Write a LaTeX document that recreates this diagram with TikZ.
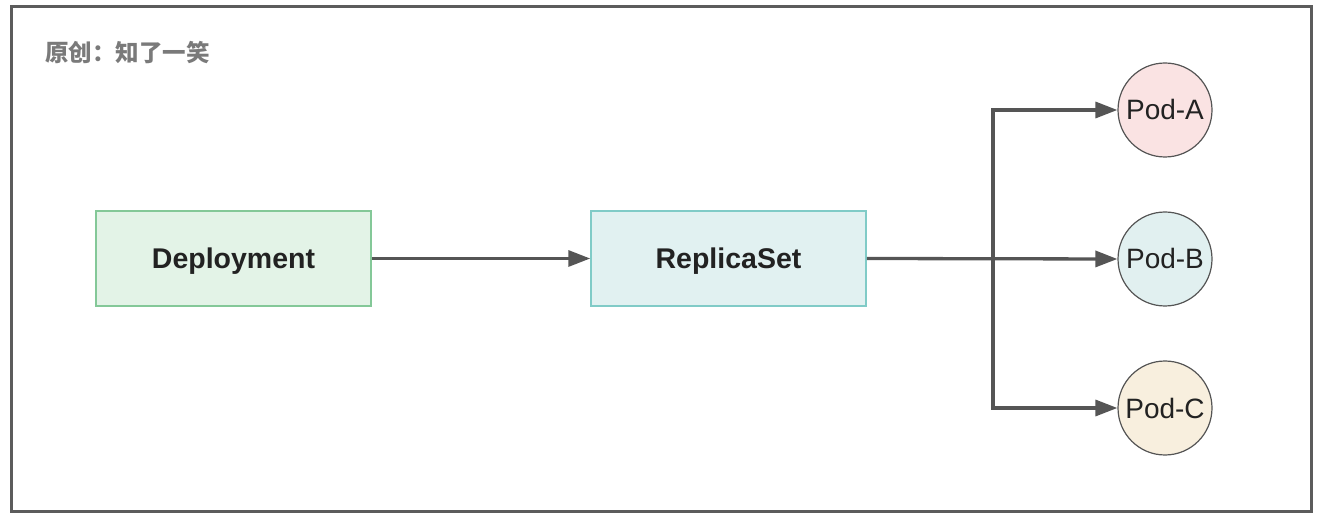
\documentclass[tikz,border=0pt]{standalone}
\usepackage{fontspec}
\setmainfont{Liberation Sans}
\newfontfamily\cjk{Noto Sans CJK SC}
\usetikzlibrary{arrows.meta,positioning}
\definecolor{framec}{HTML}{5C5C5C}
\definecolor{linec}{HTML}{555555}
\definecolor{depfill}{HTML}{E3F3E7}
\definecolor{depdraw}{HTML}{84C898}
\definecolor{rsfill}{HTML}{E1F1F1}
\definecolor{rsdraw}{HTML}{80CBC7}
\definecolor{pafill}{HTML}{FAE3E3}
\definecolor{pbfill}{HTML}{E1F0F0}
\definecolor{pcfill}{HTML}{F8EFDE}
\definecolor{titlec}{HTML}{7A7A7A}
\definecolor{textc}{HTML}{222222}
\tikzset{
  box/.style={rectangle, minimum width=275pt, minimum height=95pt, inner sep=0pt, line width=1.5pt, text=textc, text height=20.4pt, text depth=0pt, font=\fontsize{28.5}{32}\selectfont\bfseries},
  pod/.style={circle, minimum size=94pt, inner sep=0pt, draw=linec, line width=1.2pt, text=textc, text height=20pt, text depth=0pt, font=\fontsize{28}{32}\selectfont},
  arr/.style={draw=linec, line width=3.3pt, -{Triangle[length=22pt,width=16pt]}},
}
\begin{document}
\begin{tikzpicture}[x=1pt,y=-1pt]
\useasboundingbox (0,0) rectangle (1328,518);
\draw[framec, line width=3pt] (11.5,6.5) rectangle (1311.5,511.5);
\node[anchor=west, inner sep=0pt, text=titlec, font=\cjk\bfseries\fontsize{23.5}{26}\selectfont] (title) at (45,53) {原创：知了一笑};
\node[box, fill=depfill, draw=depdraw] (dep) at (233.5,258.5) {Deployment};
\node[box, fill=rsfill, draw=rsdraw] (rs) at (728.5,258.5) {ReplicaSet};
\node[pod, fill=pafill] (pa) at (1165,110) {Pod-A};
\node[pod, fill=pbfill] (pb) at (1165,259) {Pod-B};
\node[pod, fill=pcfill] (pc) at (1165,408) {Pod-C};
\coordinate (br) at (993,259);
\draw[arr] (dep.east) -- (rs.west);
\draw[arr] (rs.east) -- (pb.west);
\draw[arr] (br) |- (pa.west);
\draw[arr] (br) |- (pc.west);
\end{tikzpicture}
\end{document}
